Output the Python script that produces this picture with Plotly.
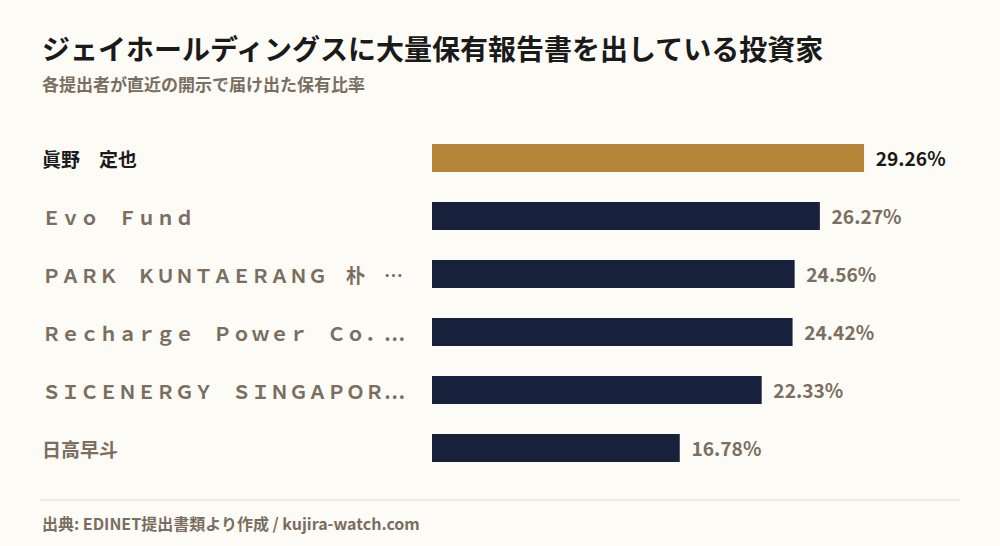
import plotly.graph_objects as go

names = ["眞野　定也", "Ｅｖｏ　Ｆｕｎｄ", "ＰＡＲＫ　ＫＵＮＴＡＥＲＡＮＧ　朴　…",
         "Ｒｅｃｈａｒｇｅ　Ｐｏｗｅｒ　Ｃｏ．…", "ＳＩＣＥＮＥＲＧＹ　ＳＩＮＧＡＰＯＲ…", "日高早斗"]
ratios = [29.26, 26.27, 24.56, 24.42, 22.33, 16.78]

FONT = "Noto Sans CJK JP"
GRAY = "#7a6e60"
DARK = "#1a1a1a"
bar_colors = ["#b5853a"] + ["#17213b"] * (len(ratios) - 1)
text_colors = [DARK] + [GRAY] * (len(ratios) - 1)

fig = go.Figure(go.Bar(
    x=ratios, y=names, orientation="h", width=0.48,
    marker=dict(color=bar_colors, line=dict(width=0)),
    text=[f"  <b>{v:.2f}%</b>" for v in ratios], textposition="outside",
    textfont=dict(family=FONT, size=20, color=text_colors),
    cliponaxis=False, hoverinfo="skip",
))

H_plot = 546 - 129 - 69
W_plot = 920
def px(x, y):
    return (x - 40) / W_plot, (546 - 69 - y) / H_plot

anns = []
for i, n in enumerate(names):
    anns.append(dict(x=0, xref="paper", y=n, yref="y", text=f"<b>{n}</b>",
                     xanchor="left", showarrow=False,
                     font=dict(family=FONT, size=19, color=text_colors[i])))

for txt, y, size, col in [
    ("ジェイホールディングスに大量保有報告書を出している投資家", 48, 28, DARK),
    ("各提出者が直近の開示で届け出た保有比率", 83, 17, GRAY),
    ("出典: EDINET提出書類より作成 / kujira-watch.com", 523, 16, GRAY),
]:
    x0, y0 = px(40, y)
    anns.append(dict(text=f"<b>{txt}</b>", x=x0, y=y0, xref="paper", yref="paper",
                     xanchor="left", yanchor="middle", showarrow=False,
                     font=dict(family=FONT, size=size, color=col)))

fig.update_layout(
    width=1000, height=546,
    paper_bgcolor="#fdfbf5", plot_bgcolor="#fdfbf5",
    margin=dict(l=40, r=40, t=129, b=69),
    showlegend=False,
    xaxis=dict(domain=[392 / 920, 1], range=[0, 35.76], visible=False),
    yaxis=dict(autorange="reversed", visible=False),
    annotations=anns,
)

xa, ya = px(40, 500)
xb, _ = px(960, 500)
fig.add_shape(type="line", xref="paper", yref="paper", x0=xa, x1=xb, y0=ya, y1=ya,
              line=dict(color="#e3dcc8", width=1))

fig.write_html("out.html", config={"displayModeBar": False},
               post_script="document.body.style.margin='0';")
